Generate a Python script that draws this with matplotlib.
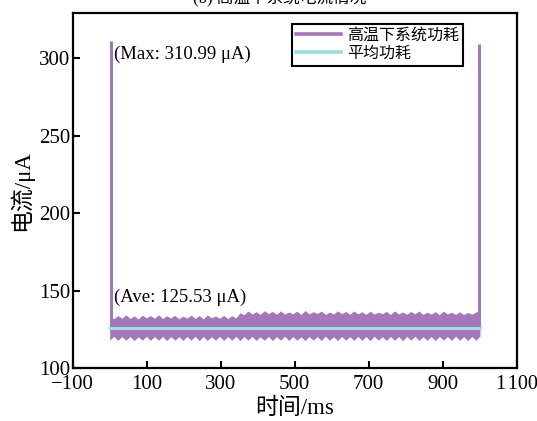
import numpy as np
import matplotlib
matplotlib.use("Agg")
import matplotlib.pyplot as plt

plt.rcParams['font.family'] = ['Liberation Serif', 'Noto Sans CJK SC', 'DejaVu Sans']
plt.rcParams['axes.unicode_minus'] = True

# ---- data ----
time_ms = np.arange(0, 1002, 11)
upper_uA = [
    133.5, 131.8, 133.9, 132.2, 134.3, 132.0, 133.6, 131.7, 134.1, 132.4,
    133.8, 132.1, 134.4, 131.9, 133.7, 132.3, 134.0, 131.8, 133.5, 132.2,
    134.2, 132.0, 133.9, 131.7, 134.3, 132.4, 133.6, 132.1, 134.0, 131.9,
    133.8, 132.3, 135.6, 134.4, 136.8, 134.9, 136.3, 134.6, 137.0, 135.1,
    136.5, 134.7, 136.9, 134.8, 136.2, 135.0, 136.7, 134.5, 137.1, 134.9,
    136.4, 135.2, 136.8, 134.6, 136.1, 134.9, 136.9, 135.1, 136.5, 134.7,
    136.8, 135.0, 136.3, 134.6, 136.7, 134.8, 136.0, 135.1, 136.6, 134.5,
    136.9, 134.9, 136.2, 134.7, 136.5, 135.0, 136.8, 134.6, 136.1, 134.8,
    136.4, 134.5, 136.7, 134.9, 136.0, 134.6, 136.3, 134.4, 135.9, 134.7,
    136.2, 136.5]
lower_uA = [
    118.0, 120.5, 117.8, 120.3, 117.9, 120.4, 117.7, 120.2, 118.0, 120.5,
    117.8, 120.3, 117.9, 120.4, 117.7, 120.3, 118.0, 120.2, 117.8, 120.4,
    117.9, 120.5, 117.7, 120.3, 117.8, 120.2, 118.0, 120.4, 117.8, 120.3,
    117.9, 120.5, 117.7, 120.3, 118.0, 120.4, 117.8, 120.2, 117.9, 120.4,
    117.7, 120.3, 118.0, 120.5, 117.8, 120.3, 117.9, 120.2, 117.7, 120.4,
    118.0, 120.3, 117.8, 120.5, 117.9, 120.2, 117.7, 120.4, 118.0, 120.3,
    117.8, 120.4, 117.9, 120.3, 117.7, 120.5, 118.0, 120.2, 117.8, 120.4,
    117.9, 120.3, 117.7, 120.4, 118.0, 120.5, 117.8, 120.2, 117.9, 120.3,
    117.7, 120.4, 118.0, 120.3, 117.8, 120.5, 117.9, 120.2, 117.7, 120.4,
    118.0, 120.6]
peak_time_ms = [3, 999]
peak_uA = [310.99, 309.2]
ave_uA = 125.53

x_ticks = [-100, 100, 300, 500, 700, 900, 1100]
x_ticklabels = ['\u2212100', '100', '300', '500', '700', '900', '1\u200a100']
y_ticks = [100, 150, 200, 250, 300]

purple = '#a477b9'
cyan = '#9adde2'

fig = plt.figure(figsize=(5.37, 4.21), dpi=100)
ax = fig.add_axes([0.1354, 0.1259, 0.8266, 0.8441])

ax.fill_between(time_ms, lower_uA, upper_uA, color=purple, lw=0)
ax.vlines(peak_time_ms, 125, peak_uA, color=purple, lw=2.2)
ax.plot([time_ms[0], time_ms[-1]], [ave_uA, ave_uA], color=cyan, lw=2.2)

# legend proxies
l1, = ax.plot([], [], color=purple, lw=2.6, label='高温下系统功耗')
l2, = ax.plot([], [], color=cyan, lw=2.6, label='平均功耗')
leg = ax.legend(handles=[l1, l2], loc='upper left', bbox_to_anchor=(0.494, 0.969),
                fontsize=11.5, frameon=True, fancybox=False, framealpha=1,
                edgecolor='black', borderpad=0.25, labelspacing=0.12,
                handlelength=2.8, handletextpad=0.4, borderaxespad=0)
leg.get_frame().set_linewidth(1.5)

ax.text(12, 302.5, '(Max: 310.99 \u03bcA)', fontsize=13.5, ha='left', va='center')
ax.text(12, 145.5, '(Ave: 125.53 \u03bcA)', fontsize=13.5, ha='left', va='center')

ax.set_xlim(-100, 1100)
ax.set_ylim(100, 329.5)
ax.set_xticks(x_ticks)
ax.set_xticklabels(x_ticklabels)
ax.set_yticks(y_ticks)
ax.tick_params(direction='in', length=5, width=1.5, labelsize=15)
ax.tick_params(axis='x', pad=5)
ax.tick_params(axis='y', pad=2)
for s in ax.spines.values():
    s.set_linewidth(1.6)
xt = ax.get_xticklabels()
xt[-1].set_fontsize(14.5)

ax.set_xlabel('时间/ms', fontsize=16.5, labelpad=3)
ax.set_ylabel('电流/\u03bcA', fontsize=16.5, labelpad=4)

fig.text(0.52, 1.003, '(b) 高温下系统电流情况', fontsize=12, ha='center', va='center')

fig.savefig('out.png', dpi=100)
